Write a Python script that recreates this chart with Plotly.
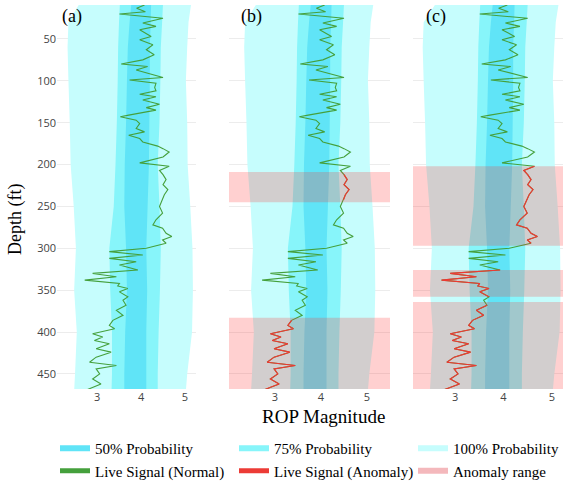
import plotly.graph_objects as go

# ---------------- data ----------------
depth = [9.5, 13.5, 17.5, 20.3, 25.4, 31, 35, 39, 47, 51, 57, 63, 69, 75, 80, 83, 87, 93, 96, 99,
         103, 108, 112, 116, 119, 123, 128, 132, 135, 141, 143, 147, 151, 157, 161, 165, 169, 173,
         178, 181, 185, 191, 198, 202, 207, 212, 218, 224, 230, 236, 242, 250, 258, 266, 272, 276,
         282, 286, 290, 294, 300, 304, 308, 312, 316, 320, 326, 330, 334, 338, 342, 345, 348, 352,
         358, 362, 368, 374, 380, 386, 392, 396, 402, 406, 410, 414, 420, 424, 430, 436, 440, 444,
         450, 456, 462, 466, 470]
rop = [4.08, 3.90, 4.10, 3.51, 4.50, 4.04, 4.34, 3.97, 4.23, 3.97, 4.27, 4.12, 4.30, 4.04, 3.55,
       4.15, 3.89, 4.34, 4.50, 3.74, 4.34, 4.31, 4.34, 3.97, 4.34, 4.04, 4.42, 4.12, 4.34, 3.72,
       3.53, 3.89, 3.97, 3.89, 4.08, 3.72, 3.97, 4.04, 4.38, 4.50, 4.64, 4.50, 3.97, 4.64, 4.42,
       4.50, 4.57, 4.50, 4.61, 4.53, 4.49, 4.42, 4.49, 4.34, 4.27, 4.49, 4.57, 4.70, 4.49, 4.57,
       4.12, 3.28, 4.04, 3.28, 3.89, 3.51, 3.93, 2.90, 3.44, 2.72, 3.51, 3.47, 3.70, 3.51, 3.70,
       3.59, 3.66, 3.44, 3.59, 3.36, 3.28, 3.40, 2.90, 3.13, 2.94, 3.28, 2.98, 3.32, 2.98, 2.83,
       3.44, 2.98, 3.06, 2.90, 3.09, 2.90, 2.72]

band_depth = [8, 30, 60, 100, 150, 200, 250, 300, 350, 400, 450, 470]
lo100 = [2.60, 2.35, 2.33, 2.35, 2.38, 2.40, 2.47, 2.52, 2.48, 2.54, 2.50, 2.48]
hi100 = [5.14, 5.08, 5.05, 5.02, 5.05, 5.06, 5.12, 5.17, 5.18, 5.16, 5.05, 5.02]
lo75 = [3.52, 3.50, 3.48, 3.47, 3.45, 3.42, 3.38, 3.28, 3.30, 3.34, 3.34, 3.33]
hi75 = [4.50, 4.48, 4.45, 4.44, 4.42, 4.38, 4.42, 4.45, 4.43, 4.40, 4.38, 4.38]
lo50 = [3.78, 3.74, 3.70, 3.68, 3.66, 3.63, 3.62, 3.66, 3.68, 3.64, 3.62, 3.62]
hi50 = [4.23, 4.22, 4.20, 4.20, 4.19, 4.18, 4.15, 4.12, 4.14, 4.12, 4.12, 4.12]

anomaly_b = [(209, 245), (383, 470)]
anomaly_c = [(202, 297), (326, 358), (364, 470)]

depth_ticks = [50, 100, 150, 200, 250, 300, 350, 400, 450]
rop_ticks = [3, 4, 5]
panel_labels = ["(a)", "(b)", "(c)"]

# ---------------- styles ----------------
C100 = "rgb(198,253,253)"
C75 = "rgb(135,245,250)"
C50 = "rgb(96,228,247)"
GREEN = "#45a03c"
RED = "#ec3b36"
PINK = "rgba(255,40,40,0.22)"
SERIF = "Liberation Serif"

W, H = 563, 483
ML, MT, MB = 57, 5, 94
PW = W - ML
PH = H - MT - MB
def px2paper(x):
    return (x - ML) / PW
def py2paper(y):
    return 1 - (y - MT) / PH

domains = [(57, 196), (229, 390), (413, 563)]
xranges = [(2.09, 5.25), (2.0, 5.5), (2.13, 5.23)]
anomalies = [[], anomaly_b, anomaly_c]

fig = go.Figure()

def in_ranges(d, ranges):
    return any(a <= d <= b for a, b in ranges)

for i in range(3):
    xa = "x" if i == 0 else f"x{i+1}"
    ya = "y" if i == 0 else f"y{i+1}"
    first = i == 0
    for lo, hi, col, name, rank in [(lo100, hi100, C100, "100% Probability", 3),
                                    (lo75, hi75, C75, "75% Probability", 2),
                                    (lo50, hi50, C50, "50% Probability", 1)]:
        fig.add_trace(go.Scatter(
            x=lo + hi[::-1], y=band_depth + band_depth[::-1],
            fill="toself", fillcolor=col, mode="none", name=name,
            showlegend=first, legendrank=rank, xaxis=xa, yaxis=ya, hoverinfo="skip"))
    fig.add_trace(go.Scatter(
        x=rop, y=depth, mode="lines", line=dict(color=GREEN, width=1.1),
        name="Live Signal (Normal)", showlegend=first, legendrank=4, xaxis=xa, yaxis=ya))
    if anomalies[i]:
        xr = [r if in_ranges(d, anomalies[i]) else None for r, d in zip(rop, depth)]
        fig.add_trace(go.Scatter(
            x=xr, y=depth, mode="lines", line=dict(color=RED, width=1.1),
            name="Live Signal (Anomaly)", showlegend=(i == 1), legendrank=5,
            xaxis=xa, yaxis=ya, connectgaps=False))
        for a, b in anomalies[i]:
            fig.add_shape(type="rect", xref=f"{xa} domain", yref=ya, x0=0, x1=1, y0=a, y1=b,
                          fillcolor=PINK, line=dict(width=0), layer="above")

# legend-only entry for the anomaly range
fig.add_trace(go.Scatter(x=[None], y=[None], fill="toself", fillcolor="rgba(240,160,165,0.75)",
                         mode="none", name="Anomaly range", legendrank=6))

axis_common = dict(showgrid=True, gridcolor="#ececec", zeroline=False, showline=False,
                   tickfont=dict(family="Open Sans", size=11, color="#444"))
lay = {}
for i in range(3):
    d0, d1 = domains[i]
    key = "xaxis" if i == 0 else f"xaxis{i+1}"
    ykey = "yaxis" if i == 0 else f"yaxis{i+1}"
    ya = "y" if i == 0 else f"y{i+1}"
    xa = "x" if i == 0 else f"x{i+1}"
    lay[key] = dict(domain=[px2paper(d0), min(1, px2paper(d1))], range=list(xranges[i]),
                    tickvals=rop_ticks, anchor=ya, **axis_common)
    lay[ykey] = dict(range=[468, 9.5], tickvals=depth_ticks, anchor=xa,
                     showticklabels=(i == 0), **axis_common)
fig.update_layout(**lay)

ann = []
for i, lab in enumerate(panel_labels):
    cx = [72, 251, 436][i]
    ann.append(dict(text=lab, x=px2paper(cx), y=py2paper(16), xref="paper", yref="paper",
                    xanchor="center", yanchor="middle", showarrow=False,
                    font=dict(family=SERIF, size=18, color="black")))
ann.append(dict(text="ROP Magnitude", x=px2paper(323), y=py2paper(416),
                xref="paper", yref="paper", xanchor="center", yanchor="middle", showarrow=False,
                font=dict(family=SERIF, size=19, color="black")))
ann.append(dict(text="Depth (ft)", x=px2paper(15), y=py2paper(220),
                xref="paper", yref="paper", xanchor="center", yanchor="middle", showarrow=False,
                textangle=-90, font=dict(family=SERIF, size=18, color="black")))

fig.update_layout(
    width=W, height=H, margin=dict(l=ML, r=0, t=MT, b=MB, autoexpand=False),
    paper_bgcolor="white", plot_bgcolor="white",
    annotations=ann,
    legend=dict(orientation="h", x=px2paper(55), xanchor="left", y=py2paper(432),
                yanchor="top", entrywidth=134, font=dict(family=SERIF, size=15, color="black"),
                bgcolor="rgba(0,0,0,0)", traceorder="normal", itemsizing="constant"),
    showlegend=True,
)

fig.write_html("out.html", config={"displayModeBar": False},
               post_script="document.body.style.margin='0px';document.body.style.padding='0px';")
